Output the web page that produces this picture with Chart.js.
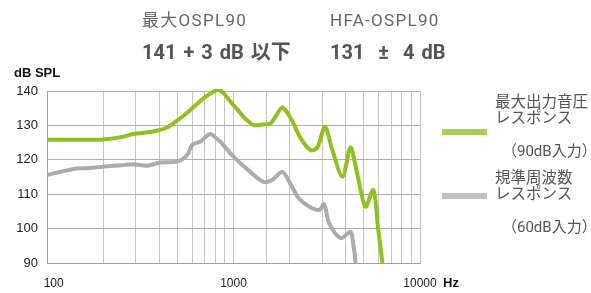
<!DOCTYPE html>
<html lang="ja">
<head>
<meta charset="UTF-8">
<title>OSPL90</title>
<script src="https://cdn.jsdelivr.net/npm/chart.js"></script>
<style>
    body {
        margin: 0;
        background: #fff;
        width: 591px;
        height: 293px;
        position: relative;
        overflow: hidden;
        font-family: Roboto, "Noto Sans CJK JP", sans-serif;
    }
    #wrap { position: absolute; left: 0; top: 0; width: 591px; height: 293px; }
    .head { position: absolute; color: #666; font-size: 17px; letter-spacing: 1.3px; line-height: 20px; white-space: nowrap; }
    .big { position: absolute; color: #555; font-size: 20px; font-weight: bold; line-height: 24px; white-space: nowrap; word-spacing: 2px; }
    .axt { position: absolute; font-family: "Liberation Sans", Arial, sans-serif; font-weight: bold; font-size: 13px; line-height: 14px; color: #111; }
    .lg-line { position: absolute; left: 442px; width: 45px; height: 6px; }
    .lg-txt { position: absolute; left: 495px; color: #555; font-size: 15.5px; line-height: 15.5px; white-space: nowrap; }
    .lg-sub { position: absolute; left: 502px; color: #555; font-size: 15px; line-height: 16px; white-space: nowrap; }
</style>
</head>
<body>
<div id="wrap"><canvas id="chart" width="591" height="293"></canvas></div>

<div class="head" style="left:142px; top:10px;">最大OSPL90</div>
<div class="head" style="left:330px; top:10px;">HFA-OSPL90</div>
<div class="big" style="left:142px; top:40px;">141 + 3 dB 以下</div>
<div class="big" style="left:330px; top:40px;">131 &nbsp;±&nbsp; 4 dB</div>
<div class="axt" style="left:14px; top:66px;">dB SPL</div>
<div class="axt" style="left:443px; top:276px;">Hz</div>
<div id="legend"></div>

<script>
    // 最大出力音圧レスポンス (90dB入力)
    const freqMax = [100, 150, 200, 250, 290, 350, 390, 440, 476, 530, 587, 640, 690, 740, 780, 817, 870, 963, 1050, 1130, 1200, 1280, 1400, 1580, 1700, 1830, 2030, 2290, 2590, 2820, 3090, 3390, 3840, 4240, 4600, 5100, 5620, 5950, 6290];
    const splMax = [125.8, 125.8, 125.9, 126.6, 127.5, 128.0, 128.5, 129.4, 130.6, 132.5, 134.5, 136.3, 137.9, 139.0, 139.8, 140.3, 139.8, 136.9, 134.6, 132.5, 131.2, 130.1, 130.2, 130.6, 133.0, 135.2, 132.0, 126.3, 122.8, 123.6, 129.6, 122.8, 115.1, 123.6, 116.1, 106.4, 111.2, 100.5, 90.0];

    // 規準周波数レスポンス (60dB入力)
    const freqRef = [100, 120, 144, 170, 200, 250, 290, 345, 405, 500, 565, 600, 665, 750, 817, 850, 1000, 1230, 1450, 1610, 1830, 2030, 2240, 2540, 2880, 3060, 3260, 3760, 4240, 4400, 4520];
    const splRef = [115.6, 116.6, 117.5, 117.6, 118.0, 118.4, 118.7, 118.3, 119.2, 119.5, 121.4, 124.3, 125.3, 127.5, 126.0, 125.3, 120.9, 116.5, 113.6, 114.1, 116.5, 112.7, 108.8, 106.4, 105.4, 107.1, 101.5, 97.2, 99.1, 95.0, 90.0];

    const seriesNames = [["最大出力音圧", "レスポンス"], ["規準周波数", "レスポンス"]];
    const seriesInput = ["（90dB入力）", "（60dB入力）"];
    const lineColors = ["#8dc21f", "#acacac"];
    const legendColors = ["#a7cf55", "#c0c0c0"];

    const yTicks = [90, 100, 110, 120, 130, 140];
    const xLabels = [100, 1000, 10000];

    function pts(xs, ys) {
        return xs.map((x, i) => ({ x: x, y: ys[i] }));
    }

    // legend (html) - text top, swatch top, sub top
    const lg = document.getElementById('legend');
    const lgPos = [[95, 129, 143], [171, 193, 219]];
    seriesNames.forEach((name, i) => {
        const p = lgPos[i];
        lg.innerHTML +=
            `<div class="lg-line" style="top:${p[1]}px; background:${legendColors[i]}"></div>` +
            `<div class="lg-txt" style="top:${p[0]}px;">${name[0]}<br>${name[1]}</div>` +
            `<div class="lg-sub" style="top:${p[2]}px;">${seriesInput[i]}</div>`;
    });

    new Chart(document.getElementById('chart'), {
        type: 'line',
        data: {
            datasets: [
                {
                    label: seriesNames[0].join(''),
                    data: pts(freqMax, splMax),
                    borderColor: lineColors[0],
                    borderWidth: 4,
                    pointRadius: 0,
                    tension: 0.3,
                    clip: 2
                },
                {
                    label: seriesNames[1].join(''),
                    data: pts(freqRef, splRef),
                    borderColor: lineColors[1],
                    borderWidth: 4,
                    pointRadius: 0,
                    tension: 0.3,
                    clip: 2
                }
            ]
        },
        options: {
            responsive: false,
            animation: false,
            layout: { padding: { left: 0, top: 91, right: 171, bottom: 0 } },
            plugins: {
                legend: { display: false },
                tooltip: { enabled: false }
            },
            scales: {
                x: {
                    type: 'logarithmic',
                    min: 100,
                    max: 10000,
                    afterFit: s => { s.height = 30; },
                    grid: { color: '#c4c4c4', drawTicks: false },
                    border: { color: '#a0a0a0' },
                    ticks: {
                        padding: 13,
                        autoSkip: false,
                        maxRotation: 0,
                        color: '#222',
                        font: { family: 'Liberation Sans', size: 12 },
                        // first label sits a little right of the axis in the original
                        callback: v => !xLabels.includes(v) ? '' : (v === 100 ? '    ' + v : String(v))
                    }
                },
                y: {
                    min: 90,
                    max: 140,
                    afterFit: s => { s.width = 47; },
                    afterBuildTicks: s => { s.ticks = yTicks.map(v => ({ value: v })); },
                    grid: { color: '#b0b0b0', drawTicks: false },
                    border: { color: '#a0a0a0' },
                    ticks: {
                        padding: 9,
                        color: '#222',
                        font: { family: 'Liberation Sans', size: 13 }
                    }
                }
            }
        }
    });
</script>
</body>
</html>
